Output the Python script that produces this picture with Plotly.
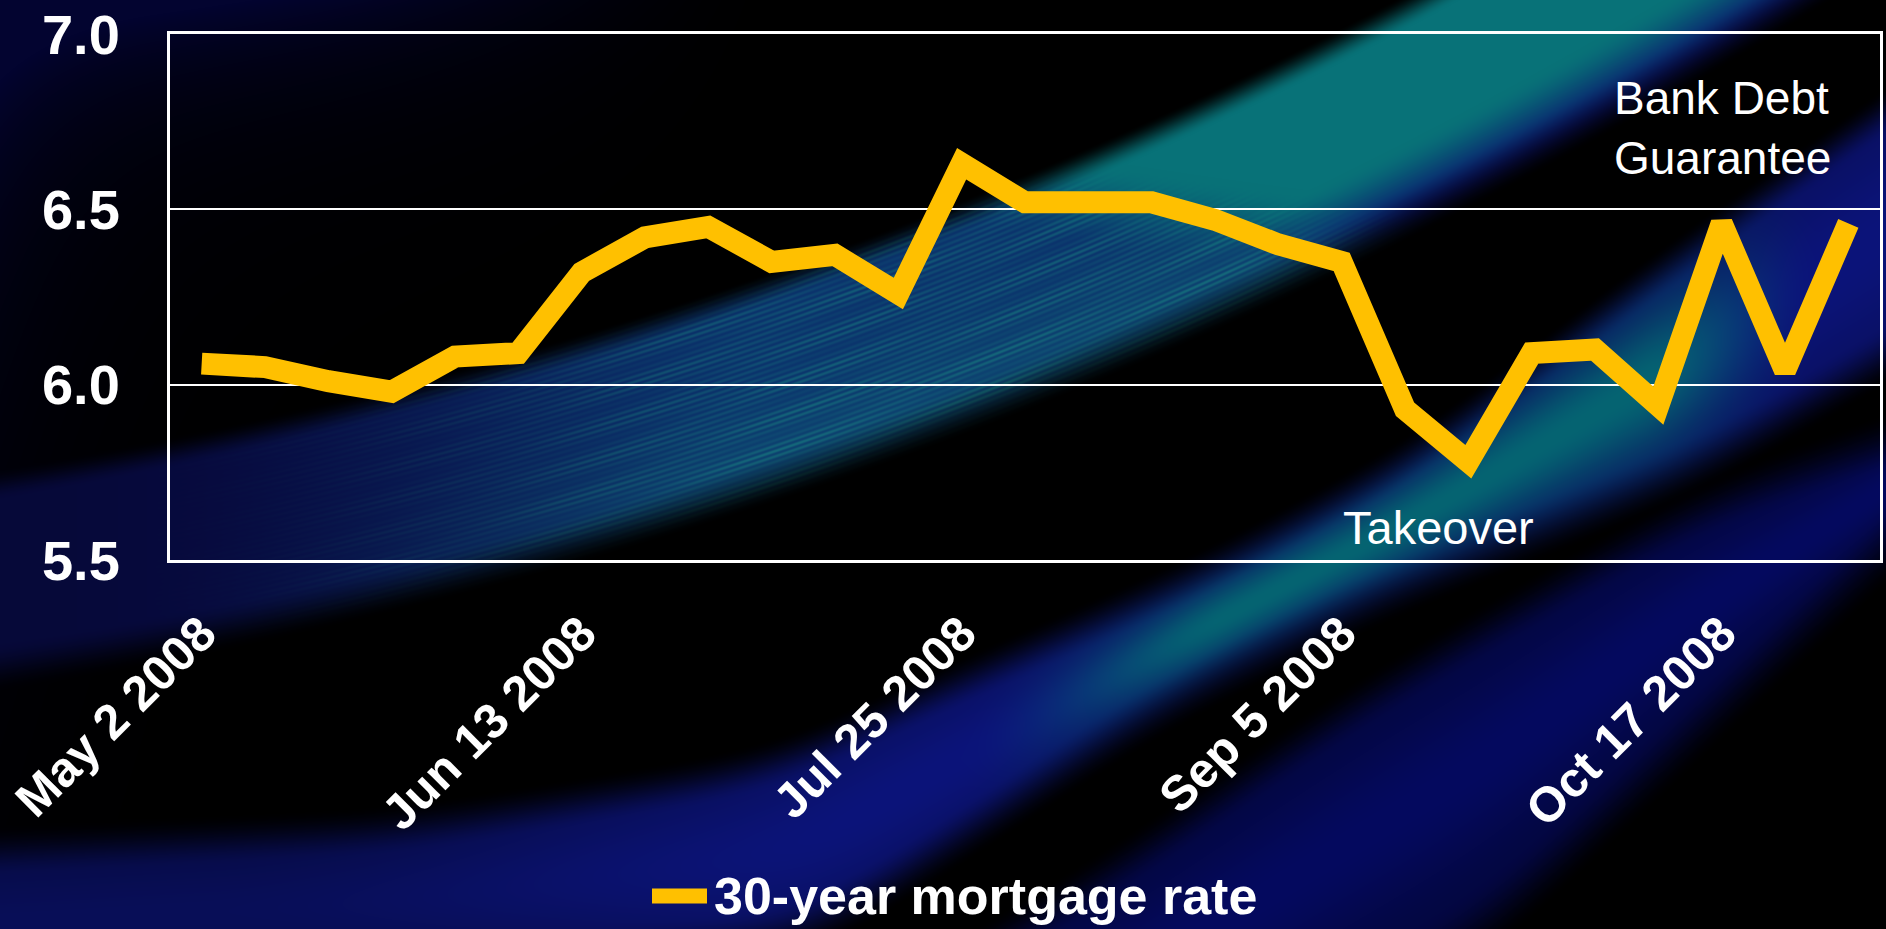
import base64
import struct
import zlib

import numpy as np
import plotly.graph_objects as go

# ---- data -----------------------------------------------------------------
weeks = [
    "May 2 2008", "May 9 2008", "May 16 2008", "May 23 2008", "May 30 2008",
    "Jun 6 2008", "Jun 13 2008", "Jun 20 2008", "Jun 27 2008", "Jul 4 2008",
    "Jul 11 2008", "Jul 18 2008", "Jul 25 2008", "Aug 1 2008", "Aug 8 2008",
    "Aug 15 2008", "Aug 22 2008", "Aug 29 2008", "Sep 5 2008", "Sep 12 2008",
    "Sep 19 2008", "Sep 26 2008", "Oct 3 2008", "Oct 10 2008", "Oct 17 2008",
    "Oct 24 2008", "Oct 31 2008",
]
mortgage_rate = [
    6.06, 6.05, 6.01, 5.98, 6.08, 6.09, 6.32, 6.42, 6.45, 6.35,
    6.37, 6.26, 6.63, 6.52, 6.52, 6.52, 6.47, 6.40, 6.35, 5.93,
    5.78, 6.09, 6.10, 5.94, 6.46, 6.04, 6.46,
]
x_tick_labels = ["May 2 2008", "Jun 13 2008", "Jul 25 2008", "Sep 5 2008", "Oct 17 2008"]
y_tick_values = [5.5, 6.0, 6.5, 7.0]
y_tick_labels = ["5.5", "6.0", "6.5", "7.0"]
series_name = "30-year mortgage rate"

W, H = 1886, 929
GOLD = "#FFC000"
FONT = "Liberation Sans, Arial, sans-serif"


# ---- decorative slide background (sweeping light bands) -------------------
def smoothstep(e0, e1, v):
    t = np.clip((v - e0) / (e1 - e0), 0.0, 1.0)
    return t * t * (3 - 2 * t)


def edge_line(xs, ys, win=181):
    """Smooth band edge y(x) across the full width from a few guide points."""
    cols = np.arange(-win, W + win, dtype=float)
    xs = np.asarray(xs, float)
    ys = np.asarray(ys, float)
    e = np.interp(cols, xs, ys)
    lo, hi = cols < xs[0], cols > xs[-1]
    e[lo] = ys[0] + (cols[lo] - xs[0]) * (ys[1] - ys[0]) / (xs[1] - xs[0])
    e[hi] = ys[-1] + (cols[hi] - xs[-1]) * (ys[-1] - ys[-2]) / (xs[-1] - xs[-2])
    k = np.exp(-0.5 * (np.arange(-win, win + 1) / (win / 3)) ** 2)
    e = np.convolve(e, k / k.sum(), mode="same")
    return e[win:win + W][None, :]


def band_mask(Y, top, bot, soft_top, soft_bot):
    return smoothstep(top - soft_top, top + soft_top, Y) * (1 - smoothstep(bot - soft_bot, bot + soft_bot, Y))


Y, X = np.mgrid[0:H, 0:W].astype(float)
img = np.zeros((H, W, 3))

teal = np.array([8, 114, 120.0])
teal_b = np.array([5, 100, 114.0])
blue = np.array([12, 20, 122.0])
navy = np.array([5, 10, 95.0])
deep = np.array([3, 4, 48.0])

# corner haze
haze = np.exp(-Y / 80) * (1 - smoothstep(150, 800, X)) + 0.8 * np.exp(-X / 100) * np.exp(-Y / 330)
img += np.clip(haze, 0, 1)[..., None] * deep

# upper arc band (section of a large circle)
R = np.hypot(X + 751, Y + 4074)
r_in, r_out = 4615.0, 4815.0
mA = smoothstep(r_in - 12, r_in + 20, R) * (1 - smoothstep(r_out - 40, r_out + 10, R))
x_cut = 1000 + (R - r_in) / (r_out - r_in) * (1364 - 1000)
f_teal = smoothstep(x_cut - 60, x_cut + 90, X)
edge = smoothstep(r_out - 80, r_out - 5, R)
teal_col = teal[None, None, :] * (1 - edge[..., None]) + blue[None, None, :] * 0.9 * edge[..., None]
fine = 0.5 + 0.5 * np.sin(2 * np.pi * R / 5.2)
broad = 0.6 + 0.4 * np.sin(2 * np.pi * R / 31 + 1.3) * np.sin(2 * np.pi * X / 430 + R / 90)
mixv = np.clip(0.25 + 0.55 * fine * broad + 0.25 * smoothstep(r_in + 60, r_out, R), 0, 1)[..., None]
streak_col = np.array([8, 34, 104.0]) * (1 - mixv) + np.array([20, 104, 122.0]) * mixv
left = (1 - smoothstep(120, 800, X))[..., None]
streak_col = streak_col * (1 - left) + np.array([10, 14, 88.0]) * left
colA = teal_col * f_teal[..., None] + streak_col * (1 - f_teal[..., None])
lvlA = 0.65 + 0.35 * smoothstep(0, 800, X)
img = img * (1 - mA[..., None]) + colA * (mA * lvlA)[..., None]

# middle band
uB = edge_line([0, 400, 770, 962, 1200, 1412, 1633, 1886], [850, 830, 770, 680, 575, 460, 290, 110])
lB = edge_line([0, 800, 1000, 1159, 1366, 1700, 1886], [1000, 940, 810, 705, 600, 465, 355])
mB = band_mask(Y, uB, lB, 26, 32)
v = (Y - uB) / np.maximum(lB - uB, 1)
wt = smoothstep(960, 1230, X) * (1 - smoothstep(1640, 1820, X)) * np.exp(-((v - 0.5) / 0.4) ** 2)
colB = blue[None, None, :] * (1 - wt[..., None]) + teal_b[None, None, :] * wt[..., None]
lvlB = (0.72 + 0.28 * smoothstep(200, 900, X)) * (0.75 + 0.25 * np.exp(-((v - 0.5) / 0.4) ** 2))
img = img * (1 - mB[..., None]) + colB * (mB * lvlB)[..., None]

# lower band
uC = edge_line([900, 1100, 1366, 1700, 1886], [1000, 880, 698, 505, 440])
lC = edge_line([1250, 1483, 1886], [1060, 930, 548])
mC = band_mask(Y, uC, lC, 30, 40)
vC = (Y - uC) / np.maximum(lC - uC, 1)
lvlC = 0.65 + 0.35 * np.exp(-((vC - 0.45) / 0.3) ** 2)
img = img * (1 - mC[..., None]) + navy[None, None, :] * (mC * lvlC)[..., None]

img = np.clip(img, 0, 255).astype(np.uint8)


def to_png(arr):
    h, w, _ = arr.shape
    rows = np.concatenate([np.zeros((h, 1), np.uint8), arr.reshape(h, w * 3)], axis=1)

    def chunk(tag, data):
        return (struct.pack(">I", len(data)) + tag + data
                + struct.pack(">I", zlib.crc32(tag + data) & 0xFFFFFFFF))

    head = struct.pack(">IIBBBBB", w, h, 8, 2, 0, 0, 0)
    return (b"\x89PNG\r\n\x1a\n" + chunk(b"IHDR", head)
            + chunk(b"IDAT", zlib.compress(rows.tobytes(), 9)) + chunk(b"IEND", b""))


bg_uri = "data:image/png;base64," + base64.b64encode(to_png(img)).decode()

# ---- figure ----------------------------------------------------------------
fig = go.Figure()
fig.add_trace(go.Scatter(
    x=weeks, y=mortgage_rate, mode="lines", name=series_name,
    line=dict(color=GOLD, width=22), showlegend=False, hoverinfo="x+y",
))

x0, x1 = 170 / W, 1880 / W
y0, y1 = 1 - 560 / H, 1 - 34 / H

fig.update_layout(
    width=W, height=H,
    margin=dict(l=0, r=0, t=0, b=0),
    paper_bgcolor="black",
    plot_bgcolor="rgba(0,0,0,0)",
    showlegend=False,
    images=[dict(source=bg_uri, xref="paper", yref="paper", x=0, y=1,
                 sizex=1, sizey=1, xanchor="left", yanchor="top",
                 sizing="stretch", layer="below")],
    xaxis=dict(
        domain=[x0, x1], type="category", categoryorder="array", categoryarray=weeks,
        range=[-0.5, len(weeks) - 0.5], tickmode="array",
        tickvals=x_tick_labels, ticktext=x_tick_labels, tickangle=-45,
        tickfont=dict(family=FONT, size=49, color="white", weight="bold"),
        ticks="", showgrid=False, zeroline=False,
        showline=True, linecolor="white", linewidth=3, mirror=True,
        ticklabelstandoff=22, automargin=False,
    ),
    yaxis=dict(
        domain=[y0, y1], range=[5.5, 7.0], tickmode="array",
        tickvals=y_tick_values, ticktext=y_tick_labels,
        tickfont=dict(family=FONT, size=56, color="white", weight="bold"),
        ticks="", showgrid=True, gridcolor="white", gridwidth=2, zeroline=False,
        showline=True, linecolor="white", linewidth=3, mirror=True,
        ticklabelstandoff=36, automargin=False,
    ),
    annotations=[
        dict(text="Bank Debt<br>Guarantee", xref="paper", yref="paper",
             x=1612 / W, y=1 - 128 / H, xanchor="left", yanchor="middle", align="left",
             showarrow=False, font=dict(family=FONT, size=46, color="white")),
        dict(text="Takeover", xref="paper", yref="paper",
             x=1341 / W, y=1 - 527 / H, xanchor="left", yanchor="middle",
             showarrow=False, font=dict(family=FONT, size=47, color="white")),
        dict(text="<b>" + series_name + "</b>", xref="paper", yref="paper",
             x=712 / W, y=0.002, xanchor="left", yanchor="bottom",
             showarrow=False, font=dict(family=FONT, size=52, color="white")),
    ],
    shapes=[
        dict(type="line", xref="paper", yref="paper",
             x0=652 / W, x1=707 / W, y0=1 - 896 / H, y1=1 - 896 / H,
             line=dict(color=GOLD, width=15)),
    ],
)

fig.write_html("out.html")
